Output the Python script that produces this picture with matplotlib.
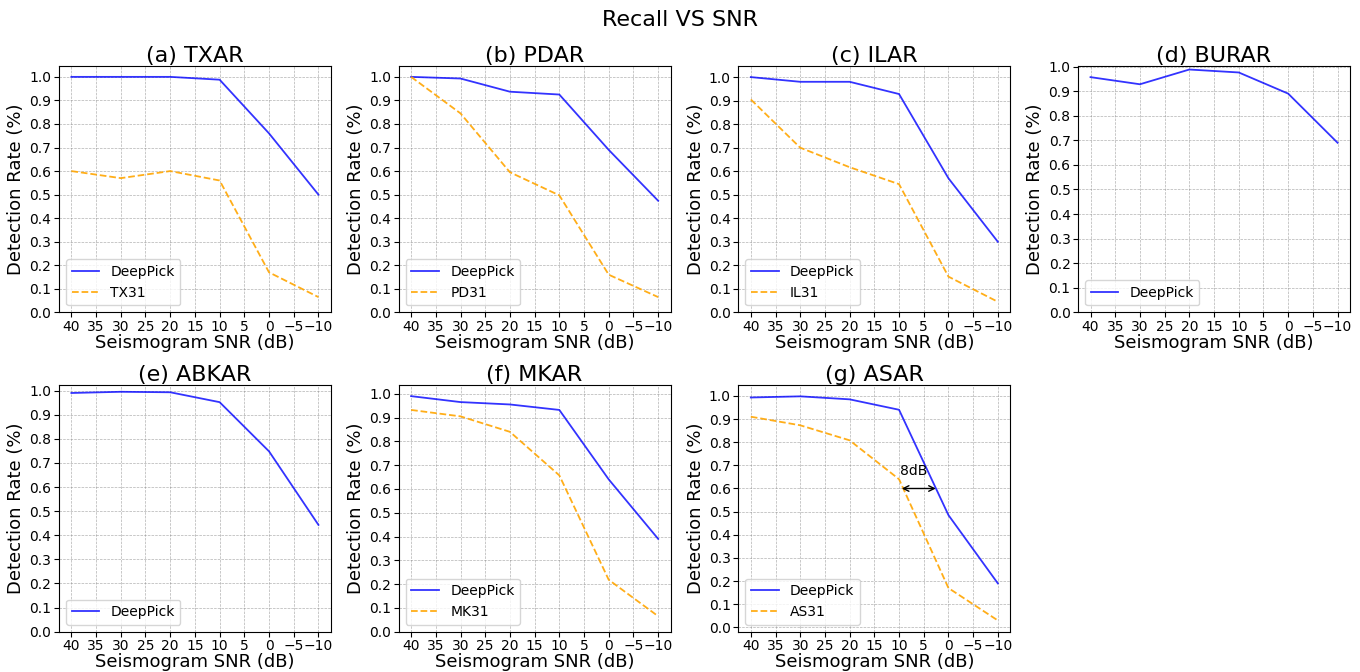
import matplotlib
matplotlib.use("Agg")
import matplotlib.pyplot as plt

# SNR levels (dB)
snr = [40, 30, 20, 10, 0, -10]
xticks = [40, 35, 30, 25, 20, 15, 10, 5, 0, -5, -10]

titles = ["(a) TXAR", "(b) PDAR", "(c) ILAR", "(d) BURAR",
          "(e) ABKAR", "(f) MKAR", "(g) ASAR"]

# DeepPick detection rates per station
deeppick_txar = [1.0, 1.0, 1.0, 0.988, 0.76, 0.50]
deeppick_pdar = [1.0, 0.993, 0.937, 0.925, 0.69, 0.474]
deeppick_ilar = [1.0, 0.98, 0.98, 0.928, 0.57, 0.30]
deeppick_burar = [0.957, 0.928, 0.988, 0.976, 0.89, 0.69]
deeppick_abkar = [0.99, 0.995, 0.993, 0.952, 0.748, 0.443]
deeppick_mkar = [0.99, 0.965, 0.955, 0.932, 0.64, 0.39]
deeppick_asar = [0.993, 0.998, 0.985, 0.94, 0.485, 0.19]

# baseline detection rates (None = no baseline)
base_txar = [0.60, 0.57, 0.60, 0.56, 0.17, 0.065]
base_pdar = [1.0, 0.845, 0.595, 0.497, 0.16, 0.065]
base_ilar = [0.905, 0.70, 0.617, 0.545, 0.152, 0.045]
base_mkar = [0.932, 0.905, 0.84, 0.657, 0.218, 0.065]
base_asar = [0.91, 0.873, 0.808, 0.64, 0.17, 0.03]

base_labels = ["TX31", "PD31", "IL31", None, None, "MK31", "AS31"]

deeppick = [deeppick_txar, deeppick_pdar, deeppick_ilar, deeppick_burar,
            deeppick_abkar, deeppick_mkar, deeppick_asar]
baseline = [base_txar, base_pdar, base_ilar, None, None, base_mkar, base_asar]

fig, axes = plt.subplots(2, 4, figsize=(13.6, 6.72), dpi=100)
plt.subplots_adjust(left=0.0434, right=0.9926, top=0.902, bottom=0.06,
                    wspace=0.25, hspace=0.295)

fig.suptitle("Recall VS SNR", fontsize=16, y=0.985)

for i, ax in enumerate(axes.flat):
    if i >= len(titles):
        ax.remove()
        continue
    ax.plot(snr, deeppick[i], color="blue", alpha=0.8, linewidth=1.3, label="DeepPick")
    if baseline[i] is not None:
        ax.plot(snr, baseline[i], color="orange", linestyle="--", alpha=0.9,
                linewidth=1.3, label=base_labels[i])
    ax.set_title(titles[i], fontsize=16, pad=3)
    ax.set_xlim(42.5, -12.5)
    ax.set_xticks(xticks)
    if i != 6:
        ax.set_ylim(bottom=0)
    ax.set_yticks([round(0.1 * k, 1) for k in range(11)])
    ax.tick_params(labelsize=10, pad=2)
    ax.set_xlabel("Seismogram SNR (dB)", fontsize=13, labelpad=0)
    ax.set_ylabel("Detection Rate (%)", fontsize=13, labelpad=3)
    ax.grid(True, linestyle="--", linewidth=0.5, color="gray", alpha=0.6)
    ax.legend(loc="lower left", fontsize=10)

# 8dB gap annotation in ASAR panel
ax = axes.flat[6]
ax.annotate("", xy=(2, 0.6), xytext=(10, 0.6),
            arrowprops=dict(arrowstyle="<->", color="black", lw=1))
ax.text(9.8, 0.66, "8dB", fontsize=10)

plt.savefig("out.png")
plt.close()
